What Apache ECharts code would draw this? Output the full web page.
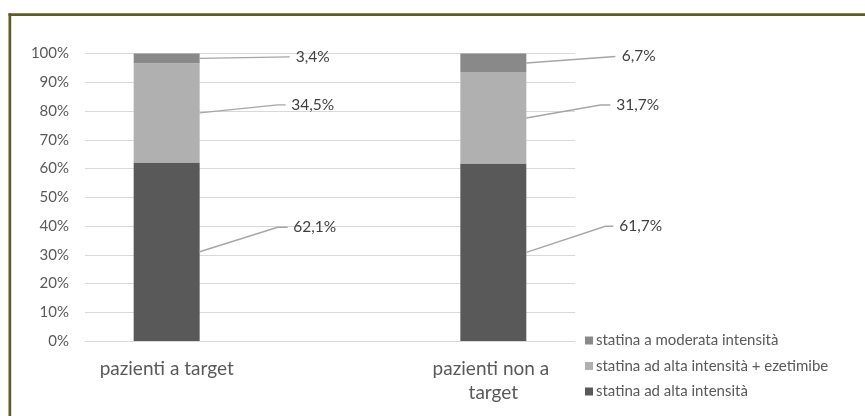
<!DOCTYPE html>
<html><head><meta charset="utf-8">
<script src="https://cdn.jsdelivr.net/npm/echarts@6/dist/echarts.min.js"></script>
<style>html,body{margin:0;padding:0;background:#fff}#c{width:865px;height:416px}</style>
</head><body><div id="c"></div>
<script>
// ---- data ----
const categories = ['pazienti a target', '', 'pazienti non a target'];
const seriesNames = ['statina ad alta intensità', 'statina ad alta intensità + ezetimibe', 'statina a moderata intensità'];
const altaIntensita = [62.1, null, 61.7];
const altaEzetimibe = [34.5, null, 31.7];
const moderata = [3.4, null, 6.7];
const yTickValues = [0, 10, 20, 30, 40, 50, 60, 70, 80, 90, 100];

// ---- style ----
const colors = ['#595959', '#b0b0b0', '#898989'];
const FONT = 'Lato, "Open Sans", sans-serif';
const BAR_FRAC = 0.404;
// leader line offsets per label (pixels): [dx, dy, horizontal tail, text gap]
const leaderOffsets = [
  [78, -24.5, 10, 5.5],
  [78, -8, 8, 5.5],
  [90, -1.5, 0, 6],
  [79, -26, 8, 6],
  [74, -13, 10, 6],
  [89, -6.5, 0, 6.5]
];

const seriesValues = [altaIntensita, altaEzetimibe, moderata];
const labelData = [];
categories.forEach((c, i) => {
  let acc = 0;
  seriesValues.forEach((arr, s) => {
    const v = arr[i];
    if (v == null) return;
    labelData.push([i, acc, Math.min(acc + v, 100), v, s]);
    acc += v;
  });
});

const chart = echarts.init(document.getElementById('c'));
chart.setOption({
  animation: false,
  backgroundColor: '#fff',
  textStyle: { fontFamily: FONT },
  grid: { left: 85, right: 290, top: 53.5, bottom: 75, containLabel: false },
  graphic: [
    { type: 'rect', shape: { x: 8.5, y: 13.3, width: 857, height: 2.7 }, style: { fill: '#5e5b2a' }, silent: true },
    { type: 'rect', shape: { x: 8.5, y: 13.3, width: 2.7, height: 410 }, style: { fill: '#5e5b2a' }, silent: true }
  ],
  legend: {
    orient: 'vertical',
    left: 580, top: 328,
    itemWidth: 8, itemHeight: 8, itemGap: 10.5,
    icon: 'rect',
    data: [seriesNames[2], seriesNames[1], seriesNames[0]],
    textStyle: { fontSize: 15, lineHeight: 14, color: '#595959', fontFamily: FONT, padding: [0, 0, 0, -2] }
  },
  xAxis: {
    type: 'category',
    data: categories,
    axisLine: { show: true, lineStyle: { color: '#d9d9d9', width: 1 } },
    axisTick: { show: false },
    axisLabel: {
      interval: 0, margin: 16, fontSize: 19, color: '#595959', fontFamily: FONT,
      width: 150, overflow: 'break', lineHeight: 24
    }
  },
  yAxis: {
    type: 'value', min: 0, max: 100, interval: 10,
    axisLine: { show: false }, axisTick: { show: false },
    splitLine: { lineStyle: { color: '#d9d9d9', width: 1 } },
    axisLabel: {
      margin: 16, fontSize: 15, color: '#595959', fontFamily: FONT,
      customValues: yTickValues,
      formatter: v => v + '%'
    }
  },
  series: [
    ...seriesValues.map((arr, s) => ({
      name: seriesNames[s], type: 'bar', stack: 'tot', data: arr,
      barWidth: (BAR_FRAC * 100) + '%',
      itemStyle: { color: colors[s] }
    })),
    {
      type: 'custom', silent: true, data: labelData, z: 5,
      renderItem: (params, api) => {
        const cat = api.value(0), start = api.value(1), end = api.value(2);
        const mid = api.coord([cat, (start + end) / 2]);
        const half = api.size([1, 0])[0] * BAR_FRAC / 2;
        const off = leaderOffsets[params.dataIndex];
        const x0 = mid[0] + half, y0 = mid[1];
        const x1 = x0 + off[0], y1 = y0 + off[1], x2 = x1 + off[2];
        const txt = api.value(3).toFixed(1).replace('.', ',') + '%';
        return {
          type: 'group',
          children: [
            { type: 'polyline', shape: { points: [[x0, y0], [x1, y1], [x2, y1]] },
              style: { stroke: '#a6a6a6', lineWidth: 1.4, fill: null } },
            { type: 'text', style: { x: x2 + off[3], y: y1, text: txt, verticalAlign: 'middle',
              fill: '#404040', fontSize: 15.5, fontFamily: FONT } }
          ]
        };
      }
    }
  ]
});
</script></body></html>
